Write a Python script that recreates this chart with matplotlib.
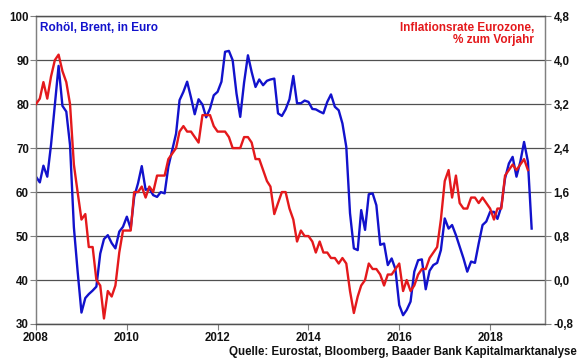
import numpy as np
import pandas as pd
import matplotlib.pyplot as plt

plt.rcParams['font.family'] = ['Liberation Sans', 'DejaVu Sans']

# Rohöl Brent in Euro, monatlich ab Jan 2008
oil_eur = [
    63.5, 62.2, 66.0, 63.5, 70.7, 79.8, 88.7, 79.6, 78.3, 70.7, 52.0, 42.0,
    32.6, 35.9, 36.8, 37.6, 38.5, 46.0, 49.3, 50.2, 48.4, 47.2, 51.0, 52.1,
    54.4, 51.7, 58.9, 62.0, 65.9, 60.5, 60.8, 59.3, 58.9, 60.0, 59.7, 65.8,
    69.5, 73.3, 80.9, 82.8, 85.1, 81.5, 77.7, 81.1, 79.9, 77.0, 79.0, 82.0,
    82.8, 85.1, 91.9, 92.1, 90.0, 82.4, 77.1, 84.9, 91.1, 87.3, 83.9, 85.6,
    84.3, 85.3, 85.6, 85.8, 77.9, 77.3, 78.8, 81.1, 86.4, 80.2, 80.2, 80.8,
    80.5, 78.9, 78.8, 78.3, 77.9, 80.5, 82.2, 79.4, 78.6, 75.6, 70.3, 55.2,
    47.2, 46.8, 55.9, 51.4, 59.5, 59.7, 57.0, 48.0, 48.3, 43.4, 44.9, 42.5,
    34.3, 32.0, 33.2, 35.1, 41.9, 44.5, 44.7, 37.9, 42.1, 43.4, 43.9, 46.8,
    54.0, 51.7, 52.5, 50.2, 47.6, 44.9, 41.9, 44.2, 43.9, 48.3, 52.5, 53.3,
    55.5, 55.5, 53.9, 56.7, 63.1, 66.5, 68.0, 63.5, 66.9, 71.4, 66.9, 51.7,
]

# Inflationsrate Eurozone, % zum Vorjahr
inflation = [
    3.2, 3.3, 3.6, 3.3, 3.7, 4.0, 4.1, 3.8, 3.6, 3.2, 2.1, 1.6,
    1.1, 1.2, 0.6, 0.6, 0.0, -0.1, -0.7, -0.2, -0.3, -0.1, 0.5, 0.9,
    0.9, 0.9, 1.6, 1.6, 1.7, 1.5, 1.7, 1.6, 1.9, 1.9, 1.9, 2.2,
    2.3, 2.4, 2.7, 2.8, 2.7, 2.7, 2.6, 2.5, 3.0, 3.0, 3.0, 2.8,
    2.7, 2.7, 2.7, 2.6, 2.4, 2.4, 2.4, 2.6, 2.6, 2.5, 2.2, 2.2,
    2.0, 1.8, 1.7, 1.2, 1.4, 1.6, 1.6, 1.3, 1.1, 0.7, 0.9, 0.8,
    0.8, 0.7, 0.5, 0.7, 0.5, 0.5, 0.4, 0.4, 0.3, 0.4, 0.3, -0.2,
    -0.6, -0.3, -0.1, 0.0, 0.3, 0.2, 0.2, 0.1, -0.1, 0.1, 0.1, 0.2,
    0.3, -0.2, 0.0, -0.2, -0.1, 0.1, 0.2, 0.2, 0.4, 0.5, 0.6, 1.1,
    1.8, 2.0, 1.5, 1.9, 1.4, 1.3, 1.3, 1.5, 1.5, 1.4, 1.5, 1.4,
    1.3, 1.1, 1.3, 1.3, 1.9, 2.0, 2.1, 2.0, 2.1, 2.2, 2.0,
]

left_ticks = [30, 40, 50, 60, 70, 80, 90, 100]
right_ticks = [-0.8, 0.0, 0.8, 1.6, 2.4, 3.2, 4.0, 4.8]
right_labels = ['-0,8', '0,0', '0,8', '1,6', '2,4', '3,2', '4,0', '4,8']
tick_years = [2008, 2010, 2012, 2014, 2016, 2018]

months_oil = pd.date_range('2008-01-01', periods=len(oil_eur), freq='MS')
months_infl = pd.date_range('2008-01-01', periods=len(inflation), freq='MS')

blue = '#1212CC'
red = '#E4191C'

fig = plt.figure(figsize=(5.8, 3.59), dpi=100)
ax = fig.add_axes([0.062, 0.0975, 0.878, 0.8575])
ax2 = ax.twinx()

ax.plot(months_oil, oil_eur, color=blue, lw=1.7, zorder=3)
ax2.plot(months_infl, inflation, color=red, lw=1.7, zorder=3)

ax.set_ylim(30, 100)
ax2.set_ylim(-0.8, 4.8)
ax.set_xlim(pd.Timestamp('2008-01-01'), pd.Timestamp('2019-03-20'))

ax.set_yticks(left_ticks)
ax.set_yticklabels([str(t) for t in left_ticks])
ax2.set_yticks(right_ticks)
ax2.set_yticklabels(right_labels)
ax.set_xticks([pd.Timestamp(f'{y}-01-01') for y in tick_years])
ax.set_xticklabels([str(y) for y in tick_years])

ax.yaxis.grid(True, color='#505050', lw=0.9)
ax.set_axisbelow(True)

for a in (ax, ax2):
    for s in a.spines.values():
        s.set_color('#808080')
        s.set_linewidth(0.9)
    a.spines['top'].set_color('#505050')
    a.spines['bottom'].set_color('#505050')

ax.tick_params(axis='y', direction='out', length=4, color='#808080', pad=1,
               labelsize=8.3)
ax2.tick_params(axis='y', direction='out', length=4, color='#808080', pad=2,
                labelsize=8.3)
ax.tick_params(axis='x', direction='out', length=4, color='#808080', pad=2,
               labelsize=8.3)
for lab in ax.get_xticklabels() + ax.get_yticklabels() + ax2.get_yticklabels():
    lab.set_fontweight('bold')
    lab.set_color('#111111')

ax.text(0.008, 0.982, 'Rohöl, Brent, in Euro', transform=ax.transAxes,
        color=blue, fontsize=8.5, fontweight='bold', va='top', ha='left')
ax.text(0.978, 0.982, 'Inflationsrate Eurozone,\n% zum Vorjahr',
        transform=ax.transAxes, color=red, fontsize=8.5, fontweight='bold',
        va='top', ha='right', multialignment='right', linespacing=1.05)

fig.text(0.995, 0.0195, 'Quelle: Eurostat, Bloomberg, Baader Bank Kapitalmarktanalyse',
         ha='right', va='center', fontsize=8.3, fontweight='bold', color='#111111')

fig.savefig('out.png', dpi=100)
